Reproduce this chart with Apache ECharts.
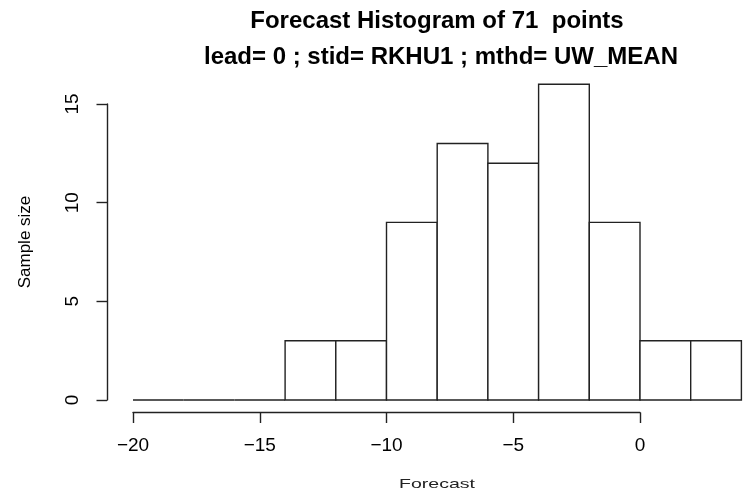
<!DOCTYPE html>
<html>
<head>
<meta charset="utf-8">
<script src="https://cdn.jsdelivr.net/npm/echarts@6/dist/echarts.min.js"></script>
<style>html,body{margin:0;padding:0;background:#fff}#c{width:744px;height:493px}</style>
</head>
<body>
<div id="c"></div>
<script>
// Data
var binStarts = [-20, -18, -16, -14, -12, -10, -8, -6, -4, -2, 0, 2];
var binEnds   = [-18, -16, -14, -12, -10, -8, -6, -4, -2, 0, 2, 4];
var counts    = [0, 0, 0, 3, 3, 9, 13, 12, 16, 9, 3, 3];
var xTicks = [-20, -15, -10, -5, 0];
var yTicks = [0, 5, 10, 15];
var titleLine1 = 'Forecast Histogram of 71  points';
var titleLine2 = 'lead= 0 ; stid= RKHU1 ; mthd= UW_MEAN';
var xLabel = 'Forecast';
var yLabel = 'Sample size';

var data = binStarts.map(function (s, i) { return [s, binEnds[i], counts[i]]; });
var FONT = '"Liberation Sans", Arial, sans-serif';

var chart = echarts.init(document.getElementById('c'), null, {renderer: 'canvas'});
chart.setOption({
  animation: false,
  backgroundColor: '#fff',
  grid: [
    {left: 133, top: 84.3, width: 608.4, height: 315.7},
    {left: 133, top: 400, width: 507, height: 12.5},
    {left: 107, top: 104, width: 10, height: 296}
  ],
  xAxis: [
    {gridIndex: 0, type: 'value', min: -20, max: 4, show: false},
    {gridIndex: 1, type: 'value', min: -20, max: 0, interval: 5, position: 'bottom',
      axisLine: {show: true, lineStyle: {color: '#222', width: 1.4}},
      axisTick: {show: true, length: 10.5, lineStyle: {color: '#222', width: 1.4}},
      axisLabel: {show: true, margin: 24, color: '#000', fontSize: 19, fontFamily: FONT,
        formatter: function (v) { return v < 0 ? '\u2212' + Math.abs(v) : String(v); }},
      splitLine: {show: false}},
    {gridIndex: 2, type: 'value', min: 0, max: 1, show: false}
  ],
  yAxis: [
    {gridIndex: 0, type: 'value', min: 0, max: 16, show: false},
    {gridIndex: 1, type: 'value', min: 0, max: 1, show: false},
    {gridIndex: 2, type: 'value', min: 0, max: 15, interval: 5, position: 'left',
      axisLine: {show: true, lineStyle: {color: '#222', width: 1.4}},
      axisTick: {show: true, length: 10.5, lineStyle: {color: '#222', width: 1.4}},
      axisLabel: {show: true, margin: 34, rotate: 90, color: '#000', fontSize: 19, fontFamily: FONT,
        align: 'center', verticalAlign: 'middle'},
      splitLine: {show: false}}
  ],
  series: [{
    type: 'custom',
    xAxisIndex: 0, yAxisIndex: 0,
    data: data,
    renderItem: function (params, api) {
      var p0 = api.coord([api.value(0), 0]);
      var p1 = api.coord([api.value(1), api.value(2)]);
      return {
        type: 'polygon',
        shape: {points: [[p0[0], p0[1]], [p0[0], p1[1]], [p1[0], p1[1]], [p1[0], p0[1]]]},
        style: {fill: '#fff', stroke: '#222', lineWidth: 1.4}
      };
    }
  }],
  graphic: [
    {type: 'text', x: 437, y: 21, style: {text: titleLine1, font: 'bold 24px ' + FONT, fill: '#000', align: 'center', verticalAlign: 'middle'}},
    {type: 'text', x: 441, y: 57, style: {text: titleLine2, font: 'bold 24px ' + FONT, fill: '#000', align: 'center', verticalAlign: 'middle'}},
    {type: 'text', x: 437, y: 484, scaleX: 1.5, style: {text: xLabel, font: '13px ' + FONT, fill: '#222', align: 'center', verticalAlign: 'middle'}},
    {type: 'text', x: 25, y: 242, rotation: Math.PI / 2, style: {text: yLabel, font: '17px ' + FONT, fill: '#000', align: 'center', verticalAlign: 'middle'}}
  ]
});
</script>
</body>
</html>
